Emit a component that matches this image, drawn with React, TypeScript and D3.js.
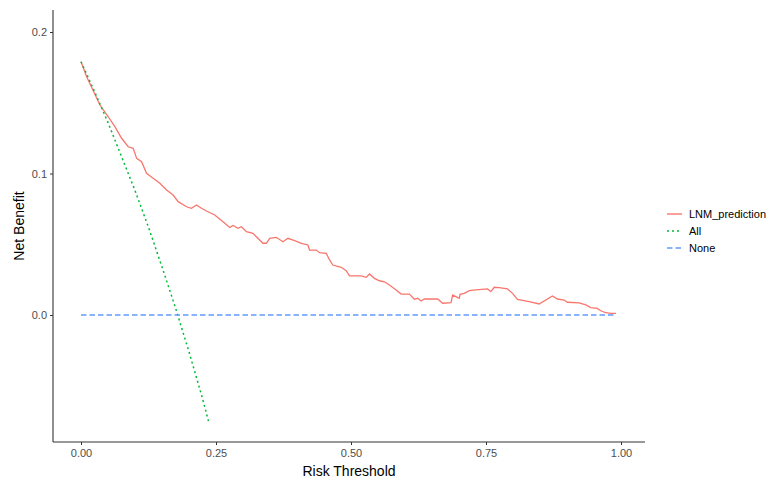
import React, { useEffect, useRef } from "react";
import * as d3 from "d3";

// threshold / net benefit
const modelThreshold = [
  0.0, 0.0105, 0.0351, 0.0505, 0.0628, 0.0752, 0.0874, 0.0967, 0.103, 0.1122,
  0.1214, 0.1336, 0.146, 0.1584, 0.1706, 0.1799, 0.1954, 0.2046, 0.2139, 0.2231,
  0.2323, 0.2477, 0.263, 0.2754, 0.2815, 0.2908, 0.297, 0.3063, 0.3185, 0.3248,
  0.334, 0.337, 0.3433, 0.3494, 0.3617, 0.3739, 0.3832, 0.3956, 0.408, 0.4201,
  0.4233, 0.4357, 0.4418, 0.4542, 0.4603, 0.4664, 0.4819, 0.4911, 0.4972, 0.5189,
  0.5281, 0.5342, 0.5434, 0.5527, 0.5619, 0.5712, 0.5835, 0.5928, 0.6081, 0.6174,
  0.6235, 0.6298, 0.6359, 0.6605, 0.6697, 0.6852, 0.6882, 0.7006, 0.7019, 0.7098,
  0.719, 0.7314, 0.7529, 0.7591, 0.7652, 0.7745, 0.7898, 0.7991, 0.8083, 0.8299,
  0.8484, 0.873, 0.8823, 0.8946, 0.9007, 0.9224, 0.9348, 0.944, 0.9562, 0.9625,
  0.9717, 0.981, 0.9908,
];
const modelBenefit = [
  0.179, 0.1684, 0.1484, 0.1401, 0.1331, 0.1249, 0.1189, 0.1178, 0.1107, 0.1083,
  0.1001, 0.0966, 0.0931, 0.0883, 0.0848, 0.0801, 0.0765, 0.0754, 0.0777, 0.0754,
  0.0735, 0.0707, 0.0659, 0.0618, 0.0633, 0.0613, 0.0624, 0.0589, 0.0577, 0.0553,
  0.0518, 0.0507, 0.0507, 0.0542, 0.0549, 0.0518, 0.0542, 0.0525, 0.0507, 0.0495,
  0.0459, 0.0459, 0.044, 0.0436, 0.0389, 0.0353, 0.0337, 0.0313, 0.0276, 0.0276,
  0.0266, 0.029, 0.0259, 0.0242, 0.0235, 0.0212, 0.0177, 0.0148, 0.0148, 0.0111,
  0.0118, 0.0099, 0.0113, 0.0113, 0.0083, 0.0087, 0.0141, 0.0118, 0.0146, 0.0153,
  0.0172, 0.0177, 0.0184, 0.0165, 0.0196, 0.0193, 0.0184, 0.0153, 0.0111, 0.0094,
  0.0078, 0.0134, 0.0113, 0.0106, 0.009, 0.0085, 0.0071, 0.0052, 0.0047, 0.003,
  0.0016, 0.0012, 0.0011,
];
const allThreshold = [0, 0.025, 0.05, 0.075, 0.1, 0.125, 0.15, 0.175, 0.2, 0.225, 0.236];
const allBenefit = [0.179, 0.158, 0.136, 0.112, 0.088, 0.062, 0.034, 0.005, -0.026, -0.059, -0.075];
const noneThreshold = [0, 0.99];
const noneBenefit = [0, 0];

const xTicks = [0, 0.25, 0.5, 0.75, 1];
const yTicks = [0, 0.1, 0.2];
const legendLabels = ["LNM_prediction", "All", "None"];

const font = "'Liberation Sans', Arial, sans-serif";

const App = () => {
  const xAxisRef = useRef<SVGGElement>(null);
  const yAxisRef = useRef<SVGGElement>(null);

  const left = 53;
  const right = 645;
  const top = 10;
  const bottom = 442;

  const x = d3.scaleLinear().domain([0, 1]).range([81, 621]);
  const y = d3.scaleLinear().domain([0, 0.2]).range([315, 32]);

  const series = [
    { name: legendLabels[0], xs: modelThreshold, ys: modelBenefit, color: "#F8766D", dash: null },
    { name: legendLabels[1], xs: allThreshold, ys: allBenefit, color: "#00BA38", dash: "2,3" },
    { name: legendLabels[2], xs: noneThreshold, ys: noneBenefit, color: "#619CFF", dash: "5.5,3" },
  ];

  const line = d3
    .line<[number, number]>()
    .x((d) => x(d[0]))
    .y((d) => y(d[1]));

  useEffect(() => {
    const gx = d3.select(xAxisRef.current);
    gx.selectAll("*").remove();
    gx.call(
      d3.axisBottom(x).tickValues(xTicks).tickSize(3).tickPadding(4).tickFormat(d3.format(".2f"))
    );
    gx.select(".domain").remove();
    gx.selectAll("line").attr("stroke", "#333333");
    gx.selectAll("text").attr("fill", "#4d4d4d").style("font-size", "11px").style("font-family", font);

    const gy = d3.select(yAxisRef.current);
    gy.selectAll("*").remove();
    gy.call(
      d3.axisLeft(y).tickValues(yTicks).tickSize(3).tickPadding(3).tickFormat(d3.format(".1f"))
    );
    gy.select(".domain").remove();
    gy.selectAll("line").attr("stroke", "#333333");
    gy.selectAll("text").attr("fill", "#4d4d4d").style("font-size", "11px").style("font-family", font);
  }, []);

  return (
    <svg width={772} height={480} style={{ position: "absolute", left: 0, top: 0, background: "#fff" }}>
      <rect x={0} y={0} width={772} height={480} fill="#ffffff" />
      {series.map((s) => (
        <path
          key={s.name}
          d={line(s.xs.map((v, i) => [v, s.ys[i]] as [number, number])) || ""}
          fill="none"
          stroke={s.color}
          strokeWidth={s.dash ? 1.5 : 1.3}
          strokeDasharray={s.dash || undefined}
        />
      ))}
      <line x1={left} x2={left} y1={top} y2={bottom} stroke="#333333" strokeWidth={1.1} />
      <line x1={left} x2={right} y1={bottom} y2={bottom} stroke="#333333" strokeWidth={1.1} />
      <g ref={xAxisRef} transform={`translate(0,${bottom})`} />
      <g ref={yAxisRef} transform={`translate(${left},0)`} />
      <text x={349} y={476} textAnchor="middle" fontFamily={font} fontSize={14} fill="#000">
        Risk Threshold
      </text>
      <text
        transform={`translate(24,${(top + bottom) / 2}) rotate(-90)`}
        textAnchor="middle"
        fontFamily={font}
        fontSize={14}
        fill="#000"
      >
        Net Benefit
      </text>
      {series.map((s, i) => (
        <g key={s.name} transform={`translate(667,${214 + i * 17})`}>
          <line x1={0} x2={15} y1={0} y2={0} stroke={s.color} strokeWidth={1.4} strokeDasharray={s.dash || undefined} />
          <text x={22} y={4} fontFamily={font} fontSize={11} fill="#000">
            {s.name}
          </text>
        </g>
      ))}
    </svg>
  );
};

export default App;
